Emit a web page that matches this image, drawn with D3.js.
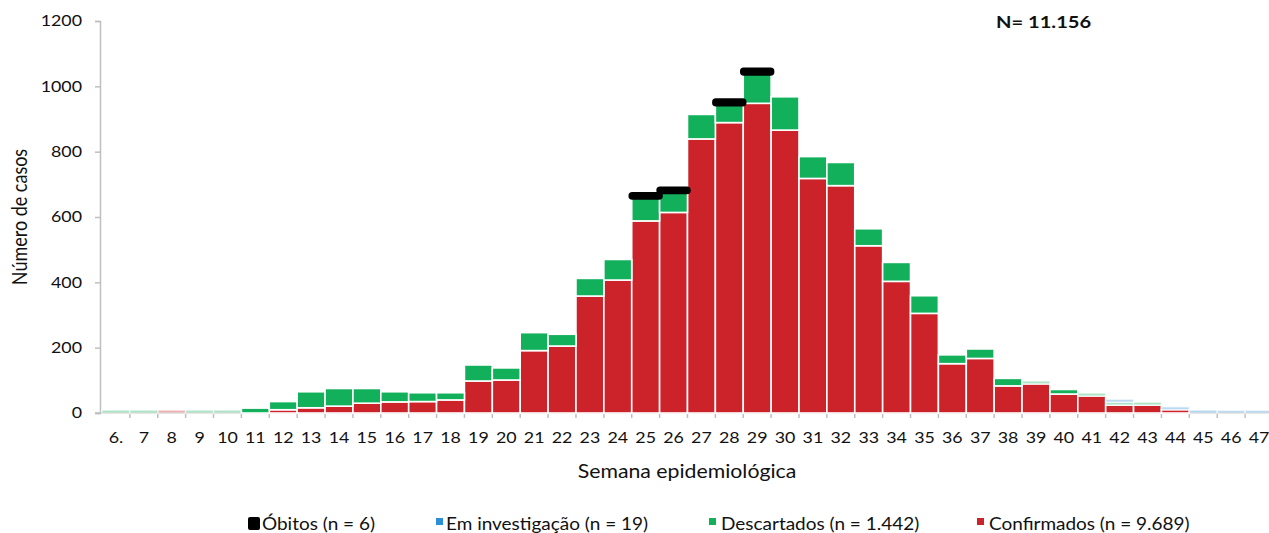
<!DOCTYPE html>
<html>
<head>
<meta charset="utf-8">
<script src="https://cdn.jsdelivr.net/npm/d3@7"></script>
<style>
  html, body { margin: 0; padding: 0; background: #fff; }
  svg { display: block; }
  text { font-family: Lato, "Open Sans", sans-serif; fill: #111; }
</style>
</head>
<body>
<svg id="chart" width="1269" height="533"></svg>
<script>
// ---------- data ----------
const weeks = ["6.","7","8","9","10","11","12","13","14","15","16","17","18","19","20",
  "21","22","23","24","25","26","27","28","29","30","31","32","33","34","35","36",
  "37","38","39","40","41","42","43","44","45","46","47"];
const confirmados = [0,0,9,0,0,0,10,16,21,30,34,35,40,98,101,
  191,205,358,407,588,614,839,889,948,866,718,696,512,403,305,151,
  167,83,89,58,52,24,24,10,0,0,0];
const descartados = [9,9,0,9,9,15,25,49,54,45,31,27,22,49,37,
  55,36,54,63,76,67,75,61,96,102,67,71,52,58,54,27,
  29,23,9,14,9,9,9,0,0,0,0];
const investigacao = [0,0,0,0,0,0,0,0,0,0,0,0,0,0,0,
  0,0,0,0,0,0,0,0,0,0,0,0,0,0,0,0,
  0,0,0,0,0,9,0,9,9,8,8];
const obitos = [0,0,0,0,0,0,0,0,0,0,0,0,0,0,0,
  0,0,0,0,1,1,0,2,2,0,0,0,0,0,0,0,
  0,0,0,0,0,0,0,0,0,0,0];
const yTicks = [0,200,400,600,800,1000,1200];
const seriesNames = ["Confirmados (n = 9.689)","Descartados (n = 1.442)","Em investigação (n = 19)","Óbitos (n = 6)"];
const totalLabel = "N= 11.156";
const xTitle = "Semana epidemiológica";
const yTitle = "Número de casos";

// ---------- styles ----------
const colors = ["#cc2229", "#13b05c", "#2a8fd8", "#000000"];
const SX = 1.15; // horizontal text stretch

const svg = d3.select("#chart");
const x = d3.scaleBand().domain(weeks).range([102, 102 + 27.88 * weeks.length]).padding(0);
const y = d3.scaleLinear().domain([0, 1200]).range([413, 21]);

const rows = weeks.map((w, i) => ({
  week: w, c: confirmados[i], d: descartados[i], inv: investigacao[i], o: obitos[i]
}));
const stack = d3.stack().keys(["c", "d", "inv", "o"]);
const layers = stack(rows);

// axes
const axisColor = "#bfbfbf";
const gy = svg.append("g").attr("transform", "translate(100,0)")
  .call(d3.axisLeft(y).tickValues(yTicks).tickSize(5).tickPadding(11).tickFormat(d3.format("d")));
gy.select(".domain").attr("stroke", axisColor).attr("stroke-width", 1.5);
gy.selectAll(".tick line").attr("stroke", axisColor).attr("stroke-width", 1.5);
gy.selectAll(".tick text")
  .attr("transform", `scale(${SX},1)`)
  .attr("x", -18 / SX)
  .style("font-size", "15.5px").style("font-family", "Lato").attr("fill", "#111");

const gx = svg.append("g").attr("transform", "translate(0,413)")
  .call(d3.axisBottom(x).tickSize(0).tickPadding(19));
gx.select(".domain").remove();
gx.selectAll(".tick text")
  .attr("transform", `scale(${SX},1)`)
  .attr("x", 0)
  .style("font-size", "15.5px").style("font-family", "Lato").attr("fill", "#111");
svg.append("line").attr("x1", 95).attr("x2", 1269).attr("y1", 413).attr("y2", 413)
  .attr("stroke", axisColor).attr("stroke-width", 1.5);
svg.append("g").selectAll("line").data(weeks.slice(1)).join("line")
  .attr("x1", d => x(d)).attr("x2", d => x(d)).attr("y1", 413).attr("y2", 418)
  .attr("stroke", axisColor).attr("stroke-width", 1.5);

// bars
const barG = svg.append("g");
layers.forEach((layer, li) => {
  const isOb = li === 3;
  barG.append("g").selectAll("rect").data(layer.filter(s => s[1] - s[0] > 0)).join("rect")
    .attr("x", d => x(d.data.week) + (isOb ? 0.5 : 0))
    .attr("width", x.bandwidth() - (isOb ? 1 : 0))
    .attr("y", d => y(d[1]))
    .attr("height", d => y(d[0]) - y(d[1]))
    .attr("fill", colors[li])
    .attr("fill-opacity", d => (!isOb && d[1] - d[0] < 10) ? 0.35 : 1)
    .attr("stroke", isOb ? "#000" : "#fff")
    .attr("stroke-opacity", d => (!isOb && d[1] - d[0] < 10) ? 0.6 : 1)
    .attr("stroke-width", isOb ? 7.5 : 1.6)
    .attr("stroke-linejoin", isOb ? "round" : "miter");
});

// titles
svg.append("text")
  .attr("transform", `translate(687,478) scale(${SX},1)`)
  .attr("text-anchor", "middle").style("font-size", "18.5px").text(xTitle);
svg.append("text")
  .attr("transform", `translate(27,217) scale(${SX},1) rotate(-90)`)
  .attr("text-anchor", "middle").style("font-size", "18px").text(yTitle);
svg.append("text")
  .attr("transform", `translate(996,28) scale(${SX},1)`)
  .style("font-size", "17.5px").style("font-weight", "bold").attr("fill", "#000").text(totalLabel);

// legend (order: Óbitos, Em investigação, Descartados, Confirmados)
const legendItems = [
  {name: seriesNames[3], color: colors[3], kx: 248, tx: 262, big: true},
  {name: seriesNames[2], color: colors[2], kx: 436, tx: 446, big: false},
  {name: seriesNames[1], color: colors[1], kx: 709, tx: 721, big: false},
  {name: seriesNames[0], color: colors[0], kx: 977, tx: 989, big: false}
];
const lg = svg.append("g");
legendItems.forEach(it => {
  if (it.big) {
    lg.append("rect").attr("x", it.kx + 2).attr("y", 519).attr("width", 8).attr("height", 9)
      .attr("fill", "#000").attr("stroke", "#000").attr("stroke-width", 4).attr("stroke-linejoin", "round");
  } else {
    lg.append("rect").attr("x", it.kx).attr("y", 518).attr("width", 7).attr("height", 7)
      .attr("fill", it.color);
  }
  lg.append("text").attr("transform", `translate(${it.tx},530) scale(${SX},1)`)
    .style("font-size", "16.5px").text(it.name);
});
</script>
</body>
</html>
